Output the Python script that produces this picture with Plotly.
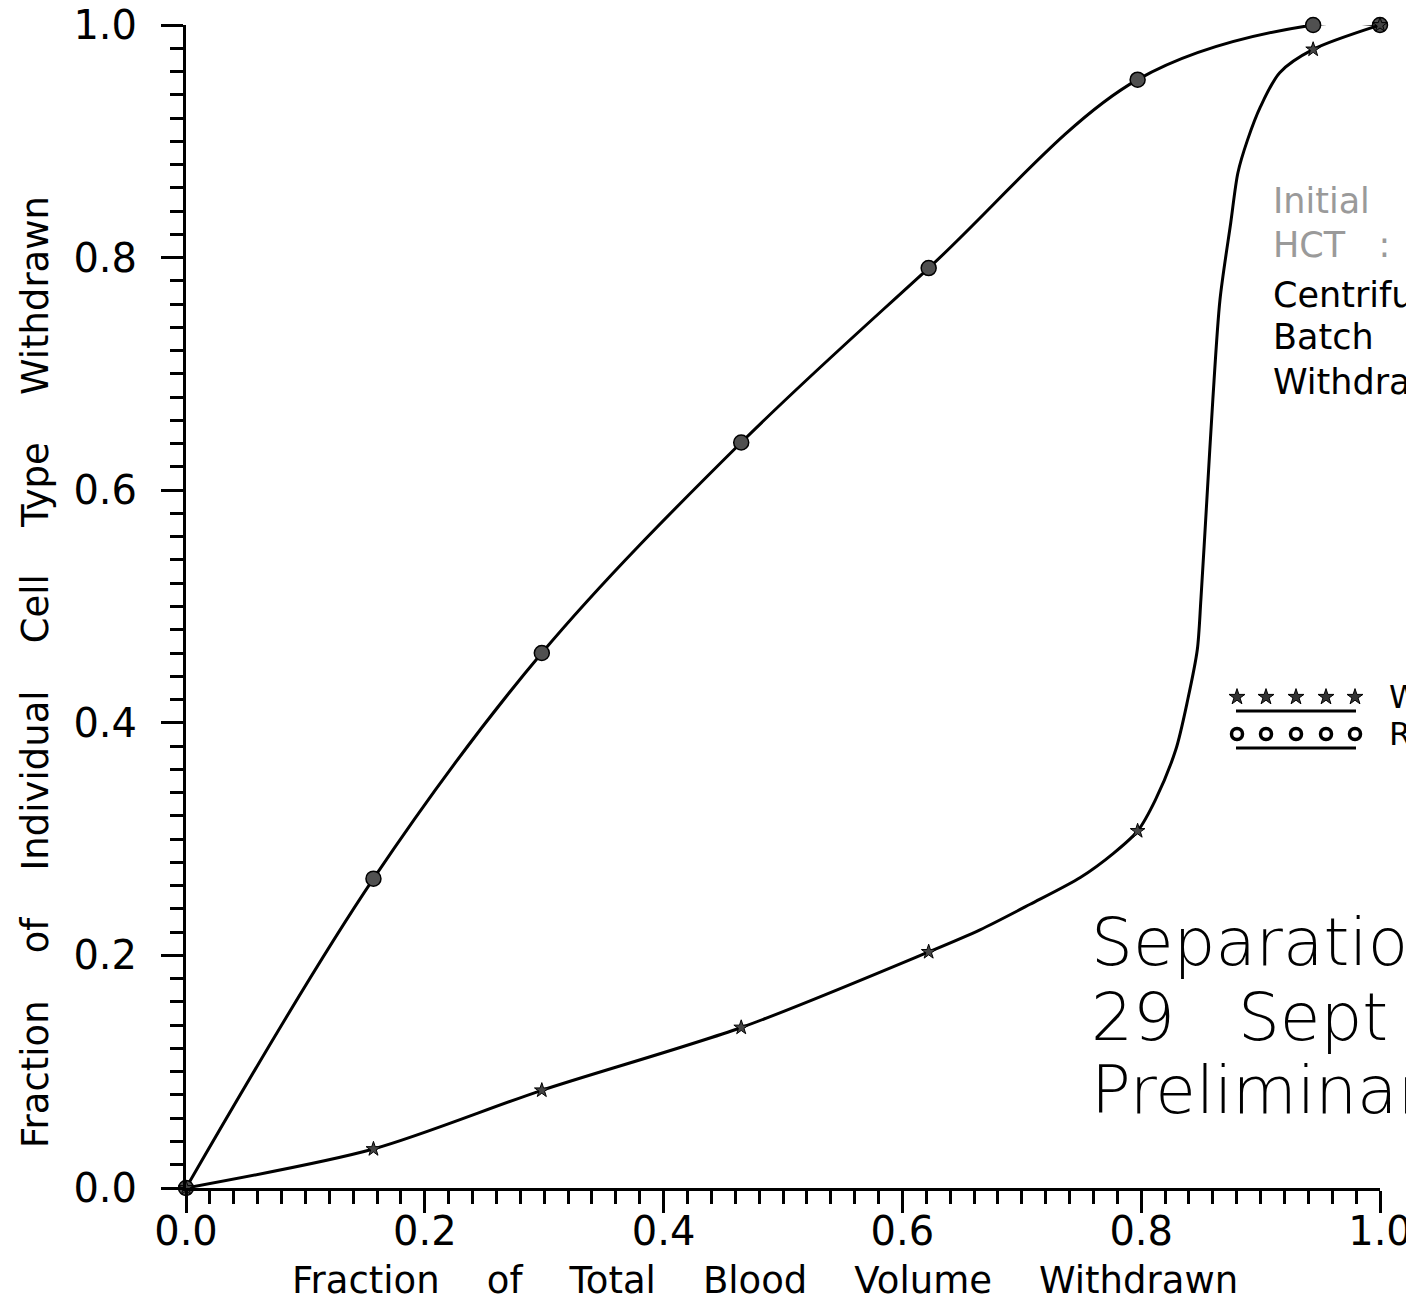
import plotly.graph_objects as go

x_meas = [0.0, 0.157, 0.298, 0.465, 0.622, 0.797, 0.944, 1.0]
red_y = [0.0, 0.266, 0.460, 0.641, 0.791, 0.953, 1.0, 1.0]
white_y = [0.0, 0.0335, 0.084, 0.138, 0.203, 0.307, 0.979, 1.0]

# ---- drawn smooth curve of white cells ----
white_curve_x = [0.0, 0.157, 0.298, 0.465, 0.622, 0.665, 0.707, 0.749, 0.777, 0.797,
                 0.812, 0.829, 0.839, 0.847, 0.850, 0.855, 0.860, 0.866, 0.875, 0.881,
                 0.889, 0.900, 0.916, 0.944, 1.0]
white_curve_y = [0.0, 0.0335, 0.084, 0.138, 0.203, 0.222, 0.244, 0.267, 0.288, 0.307,
                 0.334, 0.377, 0.420, 0.463, 0.506, 0.592, 0.678, 0.764, 0.830, 0.873,
                 0.901, 0.930, 0.959, 0.979, 1.0]

x_ticks = [0.0, 0.2, 0.4, 0.6, 0.8, 1.0]
x_tick_text = ["0.0", "0.2", "0.4", "0.6", "0.8", "1.0"]
y_ticks = [0.0, 0.2, 0.4, 0.6, 0.8, 1.0]
y_tick_text = ["0.0", "0.2", "0.4", "0.6", "0.8", "1.0"]

GAP = "&nbsp;&nbsp;&nbsp;&nbsp;"
x_title = GAP.join(["Fraction", "of", "Total", "Blood", "Volume", "Withdrawn"])
y_title = GAP.join(["Fraction", "of", "Individual", "Cell", "Type", "Withdrawn"])
info_lines = ["Initial", "HCT&nbsp;&nbsp;&nbsp;:", "Centrifuge", "Batch", "Withdrawal"]
info_colors = ["#9a9a9a", "#9a9a9a", "black", "black", "black"]
big_lines = ["Separation", "29&nbsp;&nbsp;&nbsp;Sept", "Preliminary"]
legend_names = ["White Cells", "Red Cells"]

FONT = "DejaVu Sans"

# pixel helpers for the plot area (left 186, right 1380, top 25, bottom 1188)
L, R, T, B = 186, 1380, 25, 1188
def px(xp):
    return (xp - L) / (R - L)
def py(yp):
    return (B - yp) / (B - T)

fig = go.Figure()

# red cells curve + markers
fig.add_trace(go.Scatter(x=x_meas, y=red_y, mode="lines",
                         line=dict(color="black", width=3, shape="spline"),
                         cliponaxis=False, showlegend=False, hoverinfo="skip"))
fig.add_trace(go.Scatter(x=x_meas, y=red_y, mode="markers",
                         marker=dict(symbol="circle", size=15, color="#505050",
                                     line=dict(color="black", width=1.5)),
                         cliponaxis=False, showlegend=False, name=legend_names[1]))
# white cells curve + markers
fig.add_trace(go.Scatter(x=white_curve_x, y=white_curve_y, mode="lines",
                         line=dict(color="black", width=3, shape="spline", smoothing=0.8),
                         cliponaxis=False, showlegend=False, hoverinfo="skip"))
fig.add_trace(go.Scatter(x=x_meas, y=white_y, mode="markers",
                         marker=dict(symbol="star", size=11, color="#444444",
                                     line=dict(color="black", width=1)),
                         cliponaxis=False, showlegend=False, name=legend_names[0]))

# ---- custom legend (overlay axis in plot-area fractions) ----
leg_x = [px(v) for v in (1237, 1266, 1296, 1326, 1355)]
fig.add_trace(go.Scatter(x=leg_x, y=[py(697)] * 5, mode="markers", xaxis="x2", yaxis="y2",
                         marker=dict(symbol="star", size=12, color="#333333",
                                     line=dict(color="black", width=1)),
                         cliponaxis=False, showlegend=False, hoverinfo="skip"))
fig.add_trace(go.Scatter(x=leg_x, y=[py(734)] * 5, mode="markers", xaxis="x2", yaxis="y2",
                         marker=dict(symbol="circle-open", size=11, color="black",
                                     line=dict(color="black", width=3.5)),
                         cliponaxis=False, showlegend=False, hoverinfo="skip"))
for yy in (711, 748):
    fig.add_shape(type="line", xref="paper", yref="paper",
                  x0=px(1236), x1=px(1356), y0=py(yy), y1=py(yy),
                  line=dict(color="black", width=3))
for name, yy in zip(legend_names, (697, 734)):
    fig.add_annotation(text=name, xref="paper", yref="paper", x=px(1387), y=py(yy),
                       xanchor="left", yanchor="middle", showarrow=False,
                       font=dict(family=FONT, size=32, color="black"))

# ---- info text block ----
for i, (t, c) in enumerate(zip(info_lines, info_colors)):
    base = [213, 257, 307, 349, 394][i]
    fig.add_annotation(text=t, xref="paper", yref="paper", x=px(1271), y=py(base - 12),
                       xanchor="left", yanchor="middle", showarrow=False,
                       font=dict(family=FONT, size=35, color=c))

# ---- big text ----
for i, t in enumerate(big_lines):
    base = [965, 1040, 1113][i]
    fig.add_annotation(text=t, xref="paper", yref="paper", x=px(1089), y=py(base - 23),
                       xanchor="left", yanchor="middle", showarrow=False,
                       font=dict(family=FONT, size=66, color="black", weight=200))

# ---- axis titles ----
fig.add_annotation(text=x_title, xref="paper", yref="paper", x=px(765), y=py(1280),
                   xanchor="center", yanchor="middle", showarrow=False,
                   font=dict(family=FONT, size=37, color="black"))
fig.add_annotation(text=y_title, xref="paper", yref="paper", x=px(35), y=py(672),
                   xanchor="center", yanchor="middle", showarrow=False, textangle=-90,
                   font=dict(family=FONT, size=37, color="black"))

axis_common = dict(showgrid=False, zeroline=False, showline=True, linecolor="black",
                   linewidth=3, ticks="outside", ticklen=22, tickwidth=2.5,
                   tickcolor="black", range=[0, 1], automargin=False,
                   ticklabeloverflow="allow",
                   tickfont=dict(family=FONT, size=40, color="black"))

fig.update_layout(
    width=1406, height=1303,
    margin=dict(l=L, r=1406 - R, t=T, b=1303 - B),
    paper_bgcolor="white", plot_bgcolor="white",
    font=dict(family=FONT, color="black"),
    xaxis=dict(**axis_common, tickvals=x_ticks, ticktext=x_tick_text,
               ticklabelstandoff=-16,
               minor=dict(dtick=0.02, ticks="outside", ticklen=13, tickwidth=2.5,
                          tickcolor="black")),
    yaxis=dict(**axis_common, tickvals=y_ticks, ticktext=y_tick_text,
               ticklabelstandoff=16,
               minor=dict(dtick=0.02, ticks="outside", ticklen=13, tickwidth=2.5,
                          tickcolor="black")),
    xaxis2=dict(overlaying="x", range=[0, 1], visible=False),
    yaxis2=dict(overlaying="y", range=[0, 1], visible=False),
)

fig.write_html("out.html", config={"displayModeBar": False},
               post_script="document.body.style.margin='0';document.body.style.overflow='hidden';")
